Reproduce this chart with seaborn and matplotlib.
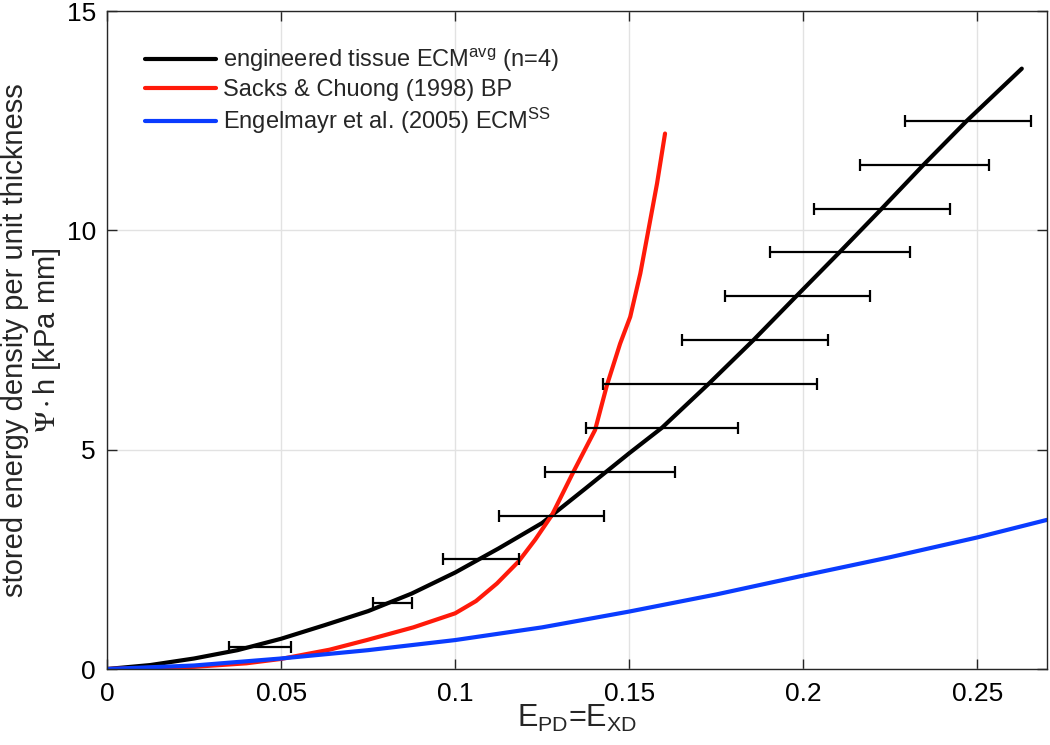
import numpy as np
import matplotlib
matplotlib.use('Agg')
import matplotlib.pyplot as plt
import seaborn as sns

# Curve data
tissueX = [0, 0.0124, 0.025, 0.0375, 0.05, 0.0625, 0.075, 0.0875, 0.1, 0.1125,
           0.125, 0.1375, 0.15, 0.1594, 0.1728, 0.1857, 0.198, 0.2104, 0.2226,
           0.2346, 0.247, 0.2628]
tissueY = [0, 0.09, 0.24, 0.43, 0.69, 1.0, 1.32, 1.72, 2.2, 2.75,
           3.33, 4.12, 4.92, 5.5, 6.5, 7.5, 8.5, 9.5, 10.5,
           11.5, 12.5, 13.69]

sacksX = [0, 0.025, 0.04, 0.05, 0.0639, 0.0746, 0.088, 0.1, 0.106, 0.112,
          0.1182, 0.123, 0.1278, 0.134, 0.1402, 0.1436, 0.1474, 0.1503,
          0.1532, 0.1555, 0.158, 0.1603]
sacksY = [0, 0.05, 0.13, 0.23, 0.44, 0.66, 0.95, 1.27, 1.55, 1.95,
          2.45, 2.95, 3.51, 4.50, 5.45, 6.47, 7.42, 8.03,
          9.02, 10.0, 11.07, 12.21]

engelX = [0, 0.025, 0.05, 0.075, 0.1, 0.125, 0.15, 0.175, 0.2, 0.225, 0.25, 0.27]
engelY = [0, 0.08, 0.24, 0.43, 0.66, 0.95, 1.31, 1.70, 2.13, 2.55, 3.0, 3.40]

# Horizontal error bars (left / right limits at each energy level)
errY = [0.5, 1.5, 2.5, 3.5, 4.5, 5.5, 6.5, 7.5, 8.5, 9.5, 10.5, 11.5, 12.5]
errLo = [0.0351, 0.0765, 0.0965, 0.1126, 0.1259, 0.1375, 0.1424, 0.1651,
         0.1776, 0.1905, 0.2032, 0.2162, 0.2293]
errHi = [0.0528, 0.0875, 0.1182, 0.1428, 0.1633, 0.1814, 0.2039, 0.2070,
         0.2193, 0.2307, 0.2422, 0.2535, 0.2655]

labels = [r'engineered tissue ECM$^{\mathrm{avg}}$ (n=4)',
          r'Sacks & Chuong (1998) BP',
          r'Engelmayr et al. (2005) ECM$^{\mathrm{SS}}$']

sns.set_style('ticks')
plt.rcParams['font.family'] = ['Liberation Sans', 'DejaVu Sans']
plt.rcParams['mathtext.fontset'] = 'custom'
plt.rcParams['mathtext.rm'] = 'Liberation Sans'
plt.rcParams['mathtext.it'] = 'Liberation Sans:italic'

fig = plt.figure(figsize=(10.5, 7.45), dpi=100)
ax = fig.add_axes([0.102, 0.102, 0.895, 0.883])

sns.lineplot(x=tissueX, y=tissueY, color='black', lw=3, label=labels[0], ax=ax)
sns.lineplot(x=sacksX, y=sacksY, color='#ff1a0a', lw=3, label=labels[1], ax=ax)
sns.lineplot(x=engelX, y=engelY, color='#0a3cff', lw=3, label=labels[2], ax=ax)

lo = np.array(errLo)
hi = np.array(errHi)
mid = (lo + hi) / 2
ax.errorbar(mid, errY, xerr=[mid - lo, hi - mid], fmt='none', ecolor='black',
            elinewidth=1.6, capsize=4, capthick=1.6)

ax.set_xlim(0, 0.27)
ax.set_ylim(0, 15)
ax.set_xticks([0, 0.05, 0.1, 0.15, 0.2, 0.25])
ax.set_xticklabels(['0', '0.05', '0.1', '0.15', '0.2', '0.25'])
ax.set_yticks([0, 5, 10, 15])
ax.grid(True, color='#e2e2e2', lw=1)
ax.set_axisbelow(True)
ax.tick_params(direction='in', length=7, width=1, labelsize=19,
               top=True, right=True, colors='#262626', labelcolor='black')
ax.tick_params(axis='x', pad=9)
ax.tick_params(axis='y', pad=8)
for s in ax.spines.values():
    s.set_color('#262626')
    s.set_linewidth(1)

ax.set_xlabel(r'E$_{\mathrm{PD}}$=E$_{\mathrm{XD}}$', fontsize=22)
ax.set_ylabel('stored energy density per unit thickness\n' + r'$\mathit{\Psi}\cdot$h [kPa mm]',
              fontsize=21, linespacing=1.1, math_fontfamily='stix')
ax.yaxis.set_label_coords(-0.047, 0.5)
ax.xaxis.set_label_coords(0.5, -0.052)

ax.legend(loc='upper left', bbox_to_anchor=(0.04, 0.946), frameon=False,
          fontsize=17, handlelength=3.0, handletextpad=0.3, labelspacing=0.22,
          borderpad=0, borderaxespad=0)

fig.savefig('out.png', dpi=100)
